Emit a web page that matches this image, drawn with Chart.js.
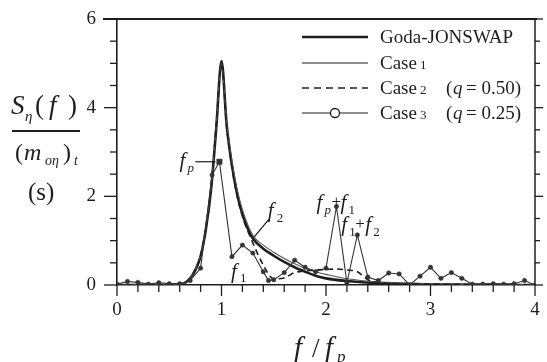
<!DOCTYPE html>
<html>
<head>
<meta charset="utf-8">
<script src="https://cdn.jsdelivr.net/npm/chart.js@4.4.0/dist/chart.umd.min.js"></script>
<style>
  html, body { margin: 0; padding: 0; background: #fff; }
  #wrap { position: relative; width: 547px; height: 362px; }
</style>
</head>
<body>
<div id="wrap"><canvas id="chart"></canvas></div>
<script>
const SERIF = '"Liberation Serif", "Times New Roman", serif';
const INK = "#1e1e1e";

// axis ranges / ticks
const X_MIN = 0, X_MAX = 4, X_MINOR = 0.2;
const Y_MIN = 0, Y_MAX = 6, Y_MINOR = 0.5, Y_MAJOR = 2;

// Goda-JONSWAP target spectrum
const jonswapF = [0, 0.5, 0.6, 0.65, 0.7, 0.75, 0.8, 0.85, 0.9, 0.95, 1.0, 1.05, 1.1, 1.15, 1.2, 1.25, 1.3, 1.4, 1.5, 1.6, 1.7, 1.8, 1.9, 2.0, 2.2, 2.5, 3.0, 3.5, 4.0];
const jonswapS = [0, 0, 0.01, 0.05, 0.15, 0.34, 0.65, 1.25, 2.15, 3.55, 5.05, 3.6, 2.7, 2.05, 1.6, 1.28, 1.05, 0.82, 0.66, 0.52, 0.4, 0.3, 0.21, 0.15, 0.09, 0.04, 0.015, 0.005, 0];

// Case 1
const case1F = [0, 0.5, 0.6, 0.65, 0.7, 0.75, 0.8, 0.85, 0.9, 0.95, 1.0, 1.05, 1.1, 1.15, 1.2, 1.3, 1.4, 1.5, 1.6, 1.7, 1.8, 1.9, 2.0, 2.2, 2.5, 3.0, 3.5, 4.0];
const case1S = [0, 0, 0.01, 0.05, 0.16, 0.36, 0.68, 1.3, 2.2, 3.6, 5.0, 3.65, 2.8, 2.15, 1.7, 1.12, 0.9, 0.74, 0.6, 0.48, 0.38, 0.3, 0.24, 0.14, 0.07, 0.03, 0.01, 0];

// Case 2 (q = 0.50)
const case2F = [0, 0.6, 0.7, 0.75, 0.8, 0.85, 0.9, 0.95, 1.0, 1.05, 1.1, 1.15, 1.2, 1.3, 1.4, 1.5, 1.6, 1.7, 1.8, 1.9, 2.0, 2.1, 2.2, 2.3, 2.4, 2.5, 3.0, 4.0];
const case2S = [0, 0.01, 0.15, 0.34, 0.66, 1.27, 2.2, 3.6, 4.95, 3.55, 2.65, 2.0, 1.55, 0.95, 0.45, 0.14, 0.16, 0.28, 0.32, 0.34, 0.35, 0.36, 0.34, 0.3, 0.12, 0.05, 0.02, 0];

// Case 3 (q = 0.25)
const case3F = [0, 0.1, 0.2, 0.3, 0.4, 0.5, 0.6, 0.7, 0.8, 0.91, 0.98, 1.1, 1.2, 1.3, 1.4, 1.45, 1.5, 1.6, 1.7, 1.8, 1.9, 2.0, 2.1, 2.2, 2.3, 2.4, 2.5, 2.6, 2.7, 2.8, 2.9, 3.0, 3.1, 3.2, 3.3, 3.4, 3.5, 3.6, 3.7, 3.8, 3.9, 4.0];
const case3S = [0.02, 0.08, 0.06, 0.02, 0.05, 0.03, 0.03, 0.1, 0.38, 2.48, 2.78, 0.64, 0.9, 0.72, 0.3, 0.1, 0.12, 0.28, 0.56, 0.4, 0.3, 0.38, 1.77, 0.05, 1.13, 0.18, 0.1, 0.27, 0.25, 0.0, 0.2, 0.4, 0.15, 0.28, 0.15, 0.02, 0.02, 0.03, 0.02, 0.03, 0.1, 0.0];

// labelled components: [f, S]
const FP = [0.98, 2.78];
const F1 = [1.1, 0.64];
const F2 = [1.29, 1.03];
const FP_F1 = [2.1, 1.77];
const F1_F2 = [2.3, 1.13];

const toPoints = (xs, ys) => xs.map((x, i) => ({ x, y: ys[i] }));

function font(size, italic) {
  return `${italic ? "italic " : ""}${size}px ${SERIF}`;
}

// draw a row of text pieces, each with its own x, y, size
function drawParts(ctx, parts) {
  parts.forEach((p) => {
    ctx.font = font(p.size, p.italic);
    ctx.textAlign = "left";
    ctx.textBaseline = "alphabetic";
    ctx.fillText(p.t, p.x, p.y);
  });
}

function drawLine(ctx, x1, y1, x2, y2, width, dash) {
  ctx.save();
  ctx.lineWidth = width;
  ctx.strokeStyle = INK;
  ctx.setLineDash(dash || []);
  ctx.beginPath();
  ctx.moveTo(x1, y1);
  ctx.lineTo(x2, y2);
  ctx.stroke();
  ctx.restore();
}

// keep the plot box where the figure has it
function noEdgePadding(scale) {
  scale.paddingTop = 0;
  scale.paddingBottom = 0;
  scale.paddingLeft = 0;
  scale.paddingRight = 0;
}

const decorations = {
  id: "decorations",
  afterDraw(chart) {
    const { ctx, chartArea: area, scales } = chart;
    const xs = scales.x, ys = scales.y;
    ctx.save();
    ctx.fillStyle = INK;

    // frame: top and right
    drawLine(ctx, area.left - 14, area.top, area.right + 2, area.top, 2);
    drawLine(ctx, area.right, area.top, area.right, area.bottom, 1.5);

    // bottom ticks (outward)
    for (let v = X_MIN; v <= X_MAX + 1e-9; v += X_MINOR) {
      const px = xs.getPixelForValue(v);
      const major = Math.abs(v - Math.round(v)) < 1e-6;
      drawLine(ctx, px, area.bottom, px, area.bottom + (major ? 11 : 7), 1.3);
    }
    // left and right ticks (outward)
    for (let v = Y_MIN; v <= Y_MAX + 1e-9; v += Y_MINOR) {
      const py = ys.getPixelForValue(v);
      const major = Math.abs(v / Y_MAJOR - Math.round(v / Y_MAJOR)) < 1e-6;
      drawLine(ctx, area.left - (major ? 13 : 7), py, area.left, py, 1.3);
      drawLine(ctx, area.right, py, area.right + (major ? 8 : 5), py, 1.3);
    }

    // y title: S_eta(f) / (m_0eta)_t  (s)
    drawParts(ctx, [
      { t: "S", x: 11, y: 114, size: 27, italic: true },
      { t: "\u03b7", x: 25, y: 121, size: 15, italic: true },
      { t: "(", x: 35, y: 114, size: 27 },
      { t: "f", x: 49, y: 114, size: 27, italic: true },
      { t: ")", x: 68, y: 114, size: 27 },
    ]);
    drawLine(ctx, 12, 131, 80, 131, 2);
    drawParts(ctx, [
      { t: "(", x: 15, y: 160, size: 24 },
      { t: "m", x: 24, y: 160, size: 24, italic: true },
      { t: "o\u03b7", x: 45, y: 165, size: 14, italic: true },
      { t: ")", x: 63, y: 160, size: 24 },
      { t: "t", x: 74, y: 165, size: 14, italic: true },
    ]);
    drawParts(ctx, [{ t: "(s)", x: 28, y: 200, size: 25 }]);

    // x title: f / f_p
    drawParts(ctx, [
      { t: "f", x: 294, y: 357, size: 29, italic: true },
      { t: "/", x: 312, y: 357, size: 27 },
      { t: "f", x: 325, y: 357, size: 29, italic: true },
      { t: "p", x: 337, y: 362, size: 17, italic: true },
    ]);

    // legend
    const lx1 = 302, lx2 = 368, tx = 380;
    const rows = [37, 63, 88, 113];
    drawLine(ctx, lx1, rows[0], lx2, rows[0], 2.6);
    drawLine(ctx, lx1, rows[1], lx2, rows[1], 1.2);
    drawLine(ctx, lx1, rows[2], lx2, rows[2], 1.6, [7, 5]);
    drawLine(ctx, lx1, rows[3], lx2, rows[3], 1.2);
    ctx.beginPath();
    ctx.arc(335, rows[3], 4.5, 0, Math.PI * 2);
    ctx.fillStyle = "#fff";
    ctx.fill();
    ctx.lineWidth = 1.3;
    ctx.strokeStyle = INK;
    ctx.stroke();
    ctx.fillStyle = INK;
    drawParts(ctx, [
      { t: "Goda-JONSWAP", x: tx, y: rows[0] + 6, size: 19 },
      { t: "Case", x: tx, y: rows[1] + 6, size: 19 },
      { t: "1", x: tx + 40, y: rows[1] + 6, size: 13 },
      { t: "Case", x: tx, y: rows[2] + 6, size: 19 },
      { t: "2", x: tx + 40, y: rows[2] + 6, size: 13 },
      { t: "(", x: 446, y: rows[2] + 6, size: 19 },
      { t: "q", x: 453, y: rows[2] + 6, size: 19, italic: true },
      { t: "= 0.50)", x: 466, y: rows[2] + 6, size: 19 },
      { t: "Case", x: tx, y: rows[3] + 6, size: 19 },
      { t: "3", x: tx + 40, y: rows[3] + 6, size: 13 },
      { t: "(", x: 446, y: rows[3] + 6, size: 19 },
      { t: "q", x: 453, y: rows[3] + 6, size: 19, italic: true },
      { t: "= 0.25)", x: 466, y: rows[3] + 6, size: 19 },
    ]);

    // component labels
    const at = (p) => [xs.getPixelForValue(p[0]), ys.getPixelForValue(p[1])];
    const [fpx, fpy] = at(FP);
    drawLine(ctx, fpx - 24, fpy, fpx - 4, fpy, 1.2);
    drawParts(ctx, [
      { t: "f", x: fpx - 40, y: fpy + 5, size: 21, italic: true },
      { t: "p", x: fpx - 32, y: fpy + 10, size: 13, italic: true },
    ]);
    const [f2x, f2y] = at(F2);
    drawLine(ctx, f2x + 2, f2y - 2, f2x + 17, f2y - 20, 1.2);
    drawParts(ctx, [
      { t: "f", x: f2x + 16, y: f2y - 22, size: 21, italic: true },
      { t: "2", x: f2x + 25, y: f2y - 17, size: 13 },
    ]);
    const [f1x, f1y] = at(F1);
    drawParts(ctx, [
      { t: "f", x: f1x - 1, y: f1y + 21, size: 21, italic: true },
      { t: "1", x: f1x + 8, y: f1y + 25, size: 13 },
    ]);
    const [a1x, a1y] = at(FP_F1);
    drawParts(ctx, [
      { t: "f", x: a1x - 20, y: a1y + 2, size: 21, italic: true },
      { t: "p", x: a1x - 12, y: a1y + 7, size: 13, italic: true },
      { t: "+", x: a1x - 5, y: a1y, size: 17 },
      { t: "f", x: a1x + 4, y: a1y + 2, size: 21, italic: true },
      { t: "1", x: a1x + 12, y: a1y + 7, size: 13 },
    ]);
    const [a2x, a2y] = at(F1_F2);
    drawParts(ctx, [
      { t: "f", x: a2x - 16, y: a2y - 4, size: 21, italic: true },
      { t: "1", x: a2x - 8, y: a2y + 1, size: 13 },
      { t: "+", x: a2x - 2, y: a2y - 6, size: 17 },
      { t: "f", x: a2x + 8, y: a2y - 4, size: 21, italic: true },
      { t: "2", x: a2x + 16, y: a2y + 1, size: 13 },
    ]);

    ctx.restore();
  },
};

function createChart(canvas) {
  return new Chart(canvas.getContext("2d"), {
    type: "line",
    data: {
      datasets: [
        {
          label: "Case 3 (q = 0.25)",
          data: toPoints(case3F, case3S),
          borderColor: "#333",
          borderWidth: 1.1,
          tension: 0,
          pointRadius: (ctx) => (ctx.dataIndex === case3F.indexOf(FP[0]) ? 3.8 : 2.2),
          pointStyle: (ctx) => (ctx.dataIndex === case3F.indexOf(FP[0]) ? "rect" : "circle"),
          pointBackgroundColor: "#333",
          pointBorderColor: "#333",
          pointBorderWidth: 0.5,
        },
        {
          label: "Case 2 (q = 0.50)",
          data: toPoints(case2F, case2S),
          borderColor: INK,
          borderWidth: 1.6,
          borderDash: [6, 4],
          cubicInterpolationMode: "monotone",
          pointRadius: 0,
        },
        {
          label: "Case 1",
          data: toPoints(case1F, case1S),
          borderColor: "#555",
          borderWidth: 1.1,
          cubicInterpolationMode: "monotone",
          pointRadius: 0,
        },
        {
          label: "Goda-JONSWAP",
          data: toPoints(jonswapF, jonswapS),
          borderColor: INK,
          borderWidth: 2.6,
          cubicInterpolationMode: "monotone",
          pointRadius: 0,
        },
      ],
    },
    options: {
      responsive: true,
      maintainAspectRatio: false,
      animation: false,
      devicePixelRatio: 1,
      layout: { padding: { left: 0, top: 19, right: 12, bottom: 0 } },
      scales: {
        x: {
          type: "linear",
          min: X_MIN,
          max: X_MAX,
          afterFit: (scale) => { scale.height = 77; noEdgePadding(scale); },
          grid: { display: false, drawTicks: false },
          border: { display: true, color: INK, width: 1.6 },
          ticks: {
            stepSize: 1,
            padding: 14,
            color: INK,
            font: { family: SERIF, size: 19 },
            maxRotation: 0,
          },
        },
        y: {
          type: "linear",
          min: Y_MIN,
          max: Y_MAX,
          afterFit: (scale) => { scale.width = 117; noEdgePadding(scale); },
          grid: { display: false, drawTicks: false },
          border: { display: true, color: INK, width: 1.6 },
          ticks: {
            stepSize: Y_MAJOR,
            padding: 21,
            color: INK,
            font: { family: SERIF, size: 19 },
          },
        },
      },
      plugins: {
        legend: { display: false },
        tooltip: { enabled: false },
      },
    },
    plugins: [decorations],
  });
}

createChart(document.getElementById("chart"));
</script>
</body>
</html>
